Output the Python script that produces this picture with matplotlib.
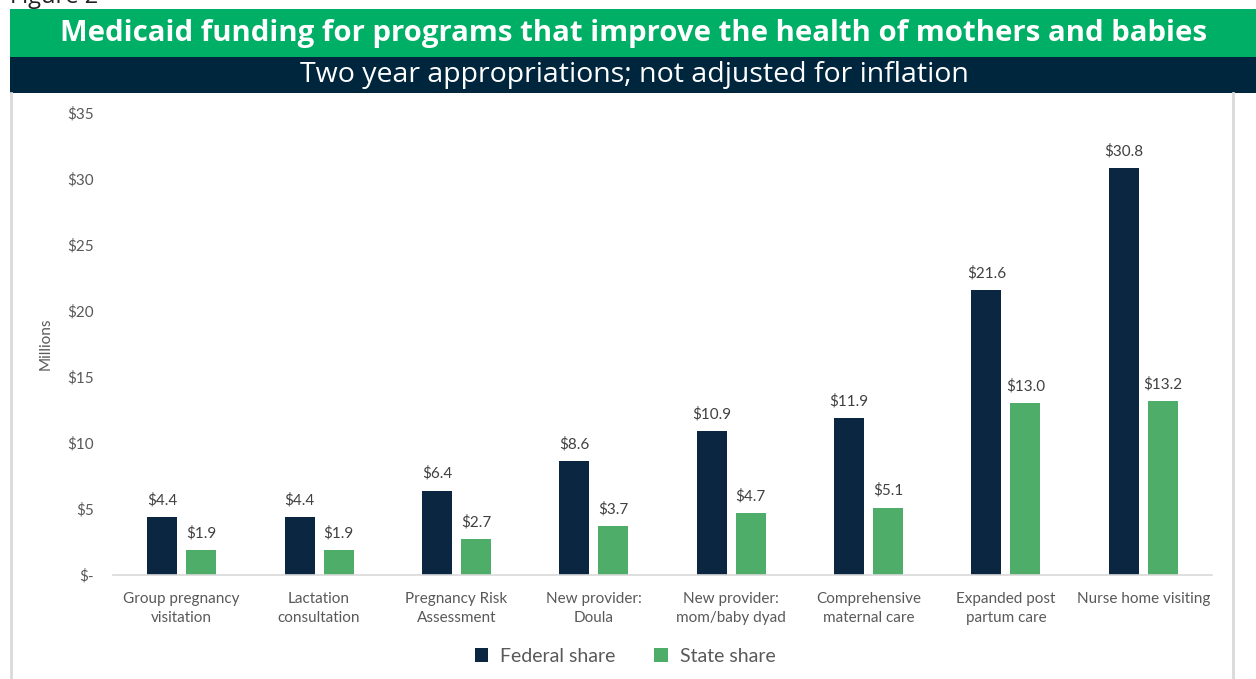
import numpy as np
import matplotlib
matplotlib.use('Agg')
import matplotlib.pyplot as plt
from matplotlib.patches import Rectangle
from matplotlib.lines import Line2D

# chart data
categories = ['Group pregnancy\nvisitation', 'Lactation\nconsultation', 'Pregnancy Risk\nAssessment',
              'New provider:\nDoula', 'New provider:\nmom/baby dyad', 'Comprehensive\nmaternal care',
              'Expanded post\npartum care', 'Nurse home visiting']
federal_share = [4.4, 4.4, 6.4, 8.6, 10.9, 11.9, 21.6, 30.8]
state_share = [1.9, 1.9, 2.7, 3.7, 4.7, 5.1, 13.0, 13.2]
y_ticks = [0, 5, 10, 15, 20, 25, 30, 35]
y_tick_labels = ['$-', '$5', '$10', '$15', '$20', '$25', '$30', '$35']

title = 'Medicaid funding for programs that improve the health of mothers and babies'
subtitle = 'Two year appropriations; not adjusted for inflation'

navy = '#0B2640'
green = '#4FAD6A'
banner_green = '#00AF66'
banner_navy = '#00263E'
grey_text = '#595959'

plt.rcParams['font.family'] = ['Lato', 'DejaVu Sans']

fig = plt.figure(figsize=(12.56, 6.79), dpi=100)
W, H = 1256, 679

def fx(px):
    return px / W

def fy(py):
    return 1 - py / H

# "Figure 2" label, cut off at the top like in the source
fig.text(fx(10), fy(9), 'Figure 2', fontsize=17, color='#222222', ha='left', va='bottom',
         family='Open Sans')

# banners
fig.patches.append(Rectangle((fx(10), fy(57)), fx(1246), (57 - 9) / H, transform=fig.transFigure,
                             facecolor=banner_green, edgecolor='none', zorder=0))
fig.patches.append(Rectangle((fx(10), fy(93)), fx(1246), (93 - 57) / H, transform=fig.transFigure,
                             facecolor=banner_navy, edgecolor='none', zorder=0))
fig.text(fx(634), fy(34), title, fontsize=21.2, color='white', fontweight='bold',
         ha='center', va='center', family='Open Sans')
fig.text(fx(634), fy(75), subtitle, fontsize=20.5, color='white', fontweight='medium',
         ha='center', va='center', family='Open Sans')

# chart frame
fig.lines.append(Line2D([fx(11), fx(11)], [fy(93), 0], transform=fig.transFigure, color='#D9D9D9', lw=2))
fig.lines.append(Line2D([fx(1233), fx(1233)], [fy(93), 0], transform=fig.transFigure, color='#D9D9D9', lw=2))

ax = fig.add_axes([fx(113), fy(575), fx(1212 - 113), (575 - 113) / H])

x = np.arange(len(categories))
bw = 0.218
off = 0.142
b1 = ax.bar(x - off, federal_share, bw, color=navy, label='Federal share')
b2 = ax.bar(x + off, state_share, bw, color=green, label='State share')

for bars, vals in ((b1, federal_share), (b2, state_share)):
    for rect, v in zip(bars, vals):
        ax.annotate(f'${v:.1f}', (rect.get_x() + rect.get_width() / 2, v),
                    xytext=(0, 7), textcoords='offset points', ha='center', va='bottom',
                    fontsize=11, color='#404040')

ax.set_xlim(-0.5, len(categories) - 0.5)
ax.set_ylim(0, 35)
ax.set_yticks(y_ticks)
ax.set_yticklabels(y_tick_labels, fontsize=11, color=grey_text)
ax.set_xticks(x)
ax.set_xticklabels(categories, fontsize=11, color=grey_text, linespacing=1.5)
ax.tick_params(axis='both', length=0)
ax.tick_params(axis='y', pad=14)
ax.tick_params(axis='x', pad=12)
for s in ['top', 'right', 'left']:
    ax.spines[s].set_visible(False)
ax.spines['bottom'].set_color('#D9D9D9')
ax.spines['bottom'].set_linewidth(1.2)
ax.set_ylabel('Millions', fontsize=11, color=grey_text, labelpad=10)

leg = fig.legend(handles=[b1, b2], loc='center', bbox_to_anchor=(fx(625), fy(656)), ncol=2,
                 frameon=False, fontsize=14, handlelength=0.7, handleheight=0.7,
                 columnspacing=2.0, handletextpad=0.6, labelcolor=grey_text)

fig.savefig('out.png', dpi=100)
